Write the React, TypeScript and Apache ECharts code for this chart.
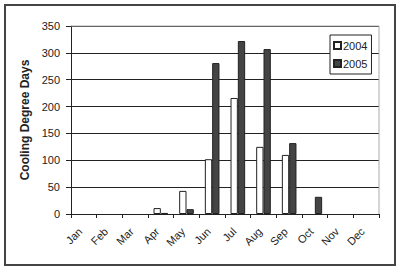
import React, { useEffect, useRef } from "react";
import * as echarts from "echarts";

const months = ["Jan", "Feb", "Mar", "Apr", "May", "Jun", "Jul", "Aug", "Sep", "Oct", "Nov", "Dec"];
const values2004 = [null, null, null, 11, 43, 102, 216, 125, 110, null, null, null];
const values2005 = [null, null, null, 2, 9, 281, 322, 307, 132, 32, null, null];
const seriesNames = ["2004", "2005"];
const yTitle = "Cooling Degree Days";

export default function App() {
  const ref = useRef<HTMLDivElement>(null);
  useEffect(() => {
    document.body.style.margin = "0";
    const chart = echarts.init(ref.current!, undefined, { renderer: "svg" });
    const font = "Liberation Sans, Arial, sans-serif";
    chart.setOption({
      animation: false,
      backgroundColor: "#fff",
      textStyle: { fontFamily: font },
      graphic: [
        {
          type: "rect",
          shape: { x: 5, y: 5, width: 390, height: 260 },
          style: { fill: "none", stroke: "#444", lineWidth: 2 },
          z: 100,
        },
        {
          type: "line",
          shape: { x1: 71, y1: 26, x2: 379, y2: 26 },
          style: { stroke: "#aaa", lineWidth: 1 },
          z: 1,
        },
        {
          type: "line",
          shape: { x1: 379, y1: 26, x2: 379, y2: 214 },
          style: { stroke: "#aaa", lineWidth: 1 },
          z: 1,
        },
      ],
      grid: { left: 71, right: 21, top: 26, bottom: 56 },
      legend: {
        orient: "vertical",
        left: 330,
        top: 35,
        data: seriesNames,
        icon: "rect",
        itemWidth: 7,
        itemHeight: 7,
        itemGap: 7,
        padding: [5, 4, 5, 3],
        borderColor: "#222",
        borderWidth: 1,
        backgroundColor: "#fff",
        textStyle: { fontSize: 11, color: "#222", fontFamily: font, padding: [0, 0, 0, -3] },
      },
      xAxis: {
        type: "category",
        data: months,
        axisLine: { lineStyle: { color: "#222", width: 1 } },
        axisTick: { show: true, length: 4, lineStyle: { color: "#222" } },
        axisLabel: {
          rotate: 45,
          fontSize: 11,
          color: "#222",
          margin: 12,
          padding: [0, 5, 0, 0],
          fontFamily: font,
          interval: 0,
        },
      },
      yAxis: {
        type: "value",
        min: 0,
        max: 350,
        interval: 50,
        name: yTitle,
        nameLocation: "middle",
        nameGap: 39,
        nameTextStyle: { fontSize: 12, fontWeight: "bold", color: "#222", fontFamily: font },
        axisLine: { show: true, lineStyle: { color: "#222", width: 1 } },
        axisTick: { show: true, length: 5, lineStyle: { color: "#222" } },
        axisLabel: { fontSize: 11, color: "#222", margin: 11, fontFamily: font },
        splitLine: { lineStyle: { color: "#222", width: 1 } },
      },
      series: [
        {
          name: seriesNames[0],
          type: "bar",
          data: values2004,
          barGap: "0%",
          barCategoryGap: "43%",
          itemStyle: { color: "#fff", borderColor: "#222", borderWidth: 1 },
          z: 3,
        },
        {
          name: seriesNames[1],
          type: "bar",
          data: values2005,
          barGap: "0%",
          barCategoryGap: "43%",
          itemStyle: { color: "#444", borderColor: "#222", borderWidth: 1 },
          z: 3,
        },
      ],
    });
    return () => chart.dispose();
  }, []);
  return <div ref={ref} style={{ width: 400, height: 270 }} />;
}
